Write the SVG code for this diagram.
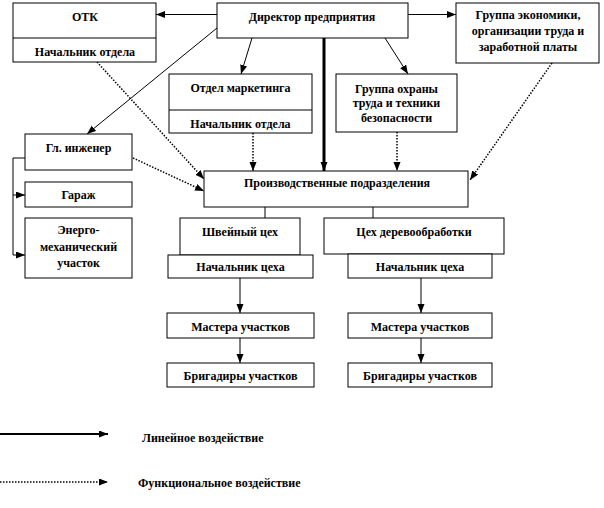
<svg xmlns="http://www.w3.org/2000/svg" width="604" height="508" viewBox="0 0 604 508">
<defs>
<style>
.box{fill:#fff;stroke:#000;stroke-width:1}
.t{font-family:'Liberation Serif','DejaVu Serif',serif;font-weight:bold;font-size:12px;fill:#000;text-anchor:middle}
.tl{font-family:'Liberation Serif','DejaVu Serif',serif;font-weight:bold;font-size:12px;fill:#000}
.ln{fill:none;stroke:#000;stroke-width:1}
.gr{fill:none;stroke:#808080;stroke-width:2}
.dt{fill:none;stroke:#000;stroke-width:1.5;stroke-dasharray:1.5 1.5}
.thick{fill:none;stroke:#000;stroke-width:3}
</style>
<marker id="a" markerUnits="userSpaceOnUse" markerWidth="10" markerHeight="8" refX="9" refY="3.5" orient="auto"><path d="M0,0 L9,3.5 L0,7 z" fill="#000"/></marker>
</defs>
<rect width="604" height="508" fill="#fff"/>

<g id="connectors">
<line class="ln" x1="217" y1="14.5" x2="156" y2="14.5" marker-end="url(#a)"/>
<line class="ln" x1="408" y1="14.5" x2="456" y2="14.5" marker-end="url(#a)"/>
<line class="ln" x1="252" y1="38" x2="241" y2="74" marker-end="url(#a)"/>
<line class="ln" x1="385" y1="38" x2="408" y2="74" marker-end="url(#a)"/>
<line class="ln" x1="217" y1="28" x2="87" y2="134" marker-end="url(#a)"/>
<line class="thick" x1="324" y1="38" x2="324" y2="171" marker-end="url(#a)"/>
<line class="dt" x1="253" y1="133" x2="253" y2="171" marker-end="url(#a)"/>
<line class="dt" x1="397" y1="132" x2="397" y2="171" marker-end="url(#a)"/>
<line class="dt" x1="552" y1="63" x2="470" y2="180" marker-end="url(#a)"/>
<line class="dt" x1="97" y1="62" x2="204" y2="179" marker-end="url(#a)"/>
<line class="dt" x1="133" y1="158" x2="204" y2="191" marker-end="url(#a)"/>
<polyline class="ln" points="25,158 13,158 13,255"/>
<line class="ln" x1="13" y1="195" x2="25" y2="195" marker-end="url(#a)"/>
<line class="ln" x1="13" y1="255" x2="25" y2="255" marker-end="url(#a)"/>
<line class="ln" x1="265" y1="207" x2="265" y2="218"/>
<line class="ln" x1="373" y1="207" x2="373" y2="218"/>
<line class="ln" x1="240" y1="278" x2="240" y2="313" marker-end="url(#a)"/>
<line class="ln" x1="240" y1="338" x2="240" y2="363" marker-end="url(#a)"/>
<line class="gr" x1="421" y1="278" x2="421" y2="313" marker-end="url(#a)"/>
<line class="gr" x1="421" y1="338" x2="421" y2="363" marker-end="url(#a)"/>
</g>

<g id="otk">
<rect class="box" x="13" y="3" width="143" height="59"/>
<line class="ln" x1="13" y1="38" x2="156" y2="38"/>
<text class="t" x="85" y="21">ОТК</text>
<text class="t" x="85" y="56">Начальник отдела</text>
</g>

<g id="director">
<rect class="box" x="217" y="3" width="191" height="35"/>
<text class="t" x="312" y="21">Директор предприятия</text>
</g>

<g id="economics">
<rect class="box" x="456" y="3" width="143" height="60"/>
<text class="t" x="528" y="19">Группа экономики,</text>
<text class="t" x="528" y="35">организации труда и</text>
<text class="t" x="528" y="51">заработной платы</text>
</g>

<g id="marketing">
<rect class="box" x="169" y="74" width="143" height="59"/>
<line class="ln" x1="169" y1="110" x2="312" y2="110"/>
<text class="t" x="240.5" y="92">Отдел маркетинга</text>
<text class="t" x="240.5" y="128">Начальник отдела</text>
</g>

<g id="safety">
<rect class="box" x="336" y="74" width="121" height="58"/>
<text class="t" x="396.5" y="93">Группа охраны</text>
<text class="t" x="396.5" y="107">труда и техники</text>
<text class="t" x="396.5" y="122">безопасности</text>
</g>

<g id="chief-engineer">
<rect class="box" x="25" y="134" width="107" height="36"/>
<text class="t" x="78.5" y="152">Гл. инженер</text>
</g>

<g id="garage">
<rect class="box" x="25" y="182" width="107" height="25"/>
<text class="t" x="78.5" y="199">Гараж</text>
</g>

<g id="energo">
<rect class="box" x="25" y="218" width="107" height="60"/>
<text class="t" x="78.5" y="234">Энерго-</text>
<text class="t" x="78.5" y="251">механический</text>
<text class="t" x="78.5" y="267">участок</text>
</g>

<g id="production">
<rect class="box" x="204" y="171" width="264" height="36"/>
<text class="t" x="337" y="187">Производственные  подразделения</text>
</g>

<g id="sewing">
<rect class="box" x="180" y="218" width="120" height="37"/>
<text class="t" x="240" y="236">Швейный цех</text>
</g>

<g id="sewing-head">
<rect class="box" x="168" y="255" width="145" height="23"/>
<text class="t" x="240.5" y="271">Начальник цеха</text>
</g>

<g id="wood">
<rect class="box" x="324" y="218" width="180" height="36"/>
<text class="t" x="414" y="236">Цех деревообработки</text>
</g>

<g id="wood-head">
<rect class="box" x="348" y="254" width="144" height="24"/>
<text class="t" x="420" y="271">Начальник цеха</text>
</g>

<g id="masters-left">
<rect class="box" x="167" y="313" width="147" height="25"/>
<text class="t" x="240.5" y="331">Мастера участков</text>
</g>

<g id="masters-right">
<rect class="box" x="348" y="313" width="144" height="25"/>
<text class="t" x="420" y="331">Мастера участков</text>
</g>

<g id="brigadiers-left">
<rect class="box" x="167" y="363" width="147" height="24"/>
<text class="t" x="240.5" y="380">Бригадиры участков</text>
</g>

<g id="brigadiers-right">
<rect class="box" x="348" y="363" width="144" height="24"/>
<text class="t" x="420" y="380">Бригадиры участков</text>
</g>

<g id="legend">
<line x1="0" y1="434" x2="108" y2="434" stroke="#000" stroke-width="2" marker-end="url(#a)"/>
<text class="tl" x="142" y="442">Линейное воздействие</text>
<line class="dt" x1="0" y1="482" x2="108" y2="482" marker-end="url(#a)"/>
<text class="tl" x="138" y="487">Функциональное  воздействие</text>
</g>
</svg>
